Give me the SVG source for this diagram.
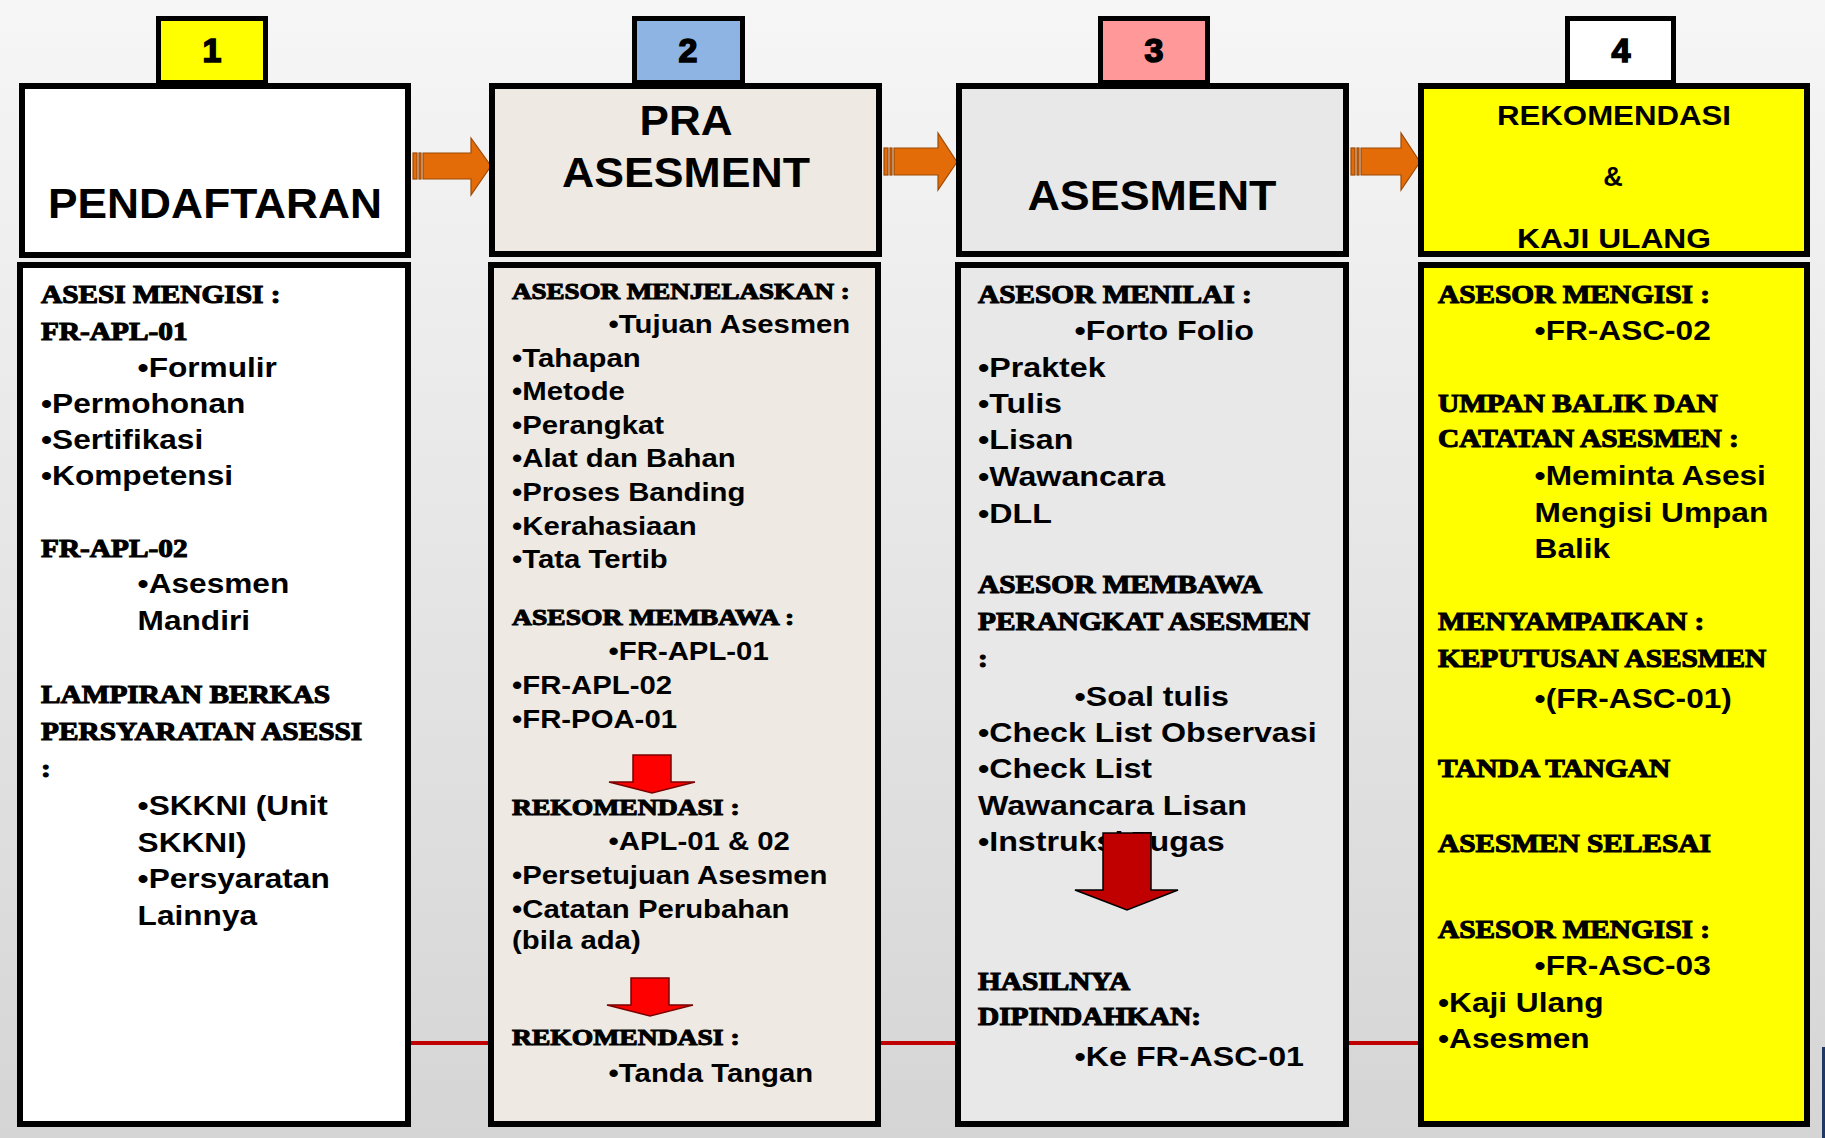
<svg xmlns="http://www.w3.org/2000/svg" width="1825" height="1138" viewBox="0 0 1825 1138">
<defs>
<linearGradient id="bg" x1="0" y1="0" x2="0" y2="1">
<stop offset="0" stop-color="#F6F6F6"/>
<stop offset="1" stop-color="#D5D5D5"/>
</linearGradient>
<style>
.box{stroke:#000;stroke-width:6}
.tab{stroke:#000;stroke-width:5}
.hd{font-family:"Liberation Sans",Arial,sans-serif;font-weight:bold;fill:#000;text-anchor:middle}
.num{stroke:#000;stroke-width:1.6}
.sr{font-family:"Liberation Serif","Times New Roman",serif;font-weight:bold;fill:#000;stroke:#000;stroke-width:1.1}
.ss{font-family:"Liberation Sans",Arial,sans-serif;font-weight:bold;fill:#000}
.oa{fill:#E36C09;stroke:#9C4A06;stroke-width:1.2}
</style>
</defs>
<rect x="0" y="0" width="1825" height="1138" fill="url(#bg)"/>
<rect x="1822" y="1047" width="3" height="91" fill="#1F3864"/>

<g id="connectors">
<line x1="408" y1="1043" x2="1420" y2="1043" stroke="#C00000" stroke-width="4"/>
<g id="arrow-1-2">
<rect class="oa" x="413" y="153" width="4" height="26"/>
<rect class="oa" x="419" y="153" width="2" height="26"/>
<polygon class="oa" points="423,153 471,153 471,138 491,166 471,195 471,179 423,179"/>
</g>
<g id="arrow-2-3">
<rect class="oa" x="884" y="148" width="4" height="27"/>
<rect class="oa" x="890" y="148" width="2" height="27"/>
<polygon class="oa" points="894,148 938,148 938,133 957,162 938,190 938,175 894,175"/>
</g>
<g id="arrow-3-4">
<rect class="oa" x="1351" y="148" width="4" height="27"/>
<rect class="oa" x="1357" y="148" width="2" height="27"/>
<polygon class="oa" points="1361,148 1401,148 1401,133 1420,162 1401,190 1401,175 1361,175"/>
</g>
</g>

<!-- Column 1 -->
<g id="tab1">
<rect class="tab" x="158.5" y="18.5" width="107" height="64" fill="#FFFF00"/>
<text class="hd num" x="212" y="62" font-size="34">1</text>
</g>
<g id="header1">
<rect class="box" x="22" y="86" width="386" height="169" fill="#FFFFFF"/>
<text class="hd" x="215" y="218" font-size="42" textLength="334" lengthAdjust="spacingAndGlyphs">PENDAFTARAN</text>
</g>
<g id="body1">
<rect class="box" x="20" y="265" width="388" height="859" fill="#FFFFFF"/>
<g transform="translate(41,0) scale(1.15,1)">
<text class="sr" x="0" y="303" font-size="25.5">ASESI MENGISI :</text>
<text class="sr" x="0" y="340" font-size="25.5">FR-APL-01</text>
<text class="ss" x="84" y="377" font-size="27.5">•Formulir</text>
<text class="ss" x="0" y="413" font-size="27.5">•Permohonan</text>
<text class="ss" x="0" y="449" font-size="27.5">•Sertifikasi</text>
<text class="ss" x="0" y="485" font-size="27.5">•Kompetensi</text>
<text class="sr" x="0" y="557" font-size="25.5">FR-APL-02</text>
<text class="ss" x="84" y="593" font-size="27.5">•Asesmen</text>
<text class="ss" x="84" y="630" font-size="27.5">Mandiri</text>
<text class="sr" x="0" y="703" font-size="25.5">LAMPIRAN BERKAS</text>
<text class="sr" x="0" y="740" font-size="25.5">PERSYARATAN ASESSI</text>
<text class="sr" x="0" y="777" font-size="25.5">:</text>
<text class="ss" x="84" y="815" font-size="27.5">•SKKNI (Unit</text>
<text class="ss" x="84" y="852" font-size="27.5">SKKNI)</text>
<text class="ss" x="84" y="888" font-size="27.5">•Persyaratan</text>
<text class="ss" x="84" y="925" font-size="27.5">Lainnya</text>
</g>
</g>

<!-- Column 2 -->
<g id="tab2">
<rect class="tab" x="634.5" y="18.5" width="108" height="64" fill="#8EB4E3"/>
<text class="hd num" x="688" y="62" font-size="34">2</text>
</g>
<g id="header2">
<rect class="box" x="492" y="86" width="387" height="168" fill="#EEEAE3"/>
<text class="hd" x="686" y="135" font-size="42" textLength="93" lengthAdjust="spacingAndGlyphs">PRA</text>
<text class="hd" x="686" y="187" font-size="42" textLength="248" lengthAdjust="spacingAndGlyphs">ASESMENT</text>
</g>
<g id="body2">
<rect class="box" x="491" y="265" width="387" height="859" fill="#EEEAE3"/>
<g transform="translate(512,0) scale(1.15,1)">
<text class="sr" x="0" y="299" font-size="23.5">ASESOR MENJELASKAN :</text>
<text class="ss" x="84" y="333" font-size="25.5">•Tujuan Asesmen</text>
<text class="ss" x="0" y="367" font-size="25.5">•Tahapan</text>
<text class="ss" x="0" y="400" font-size="25.5">•Metode</text>
<text class="ss" x="0" y="434" font-size="25.5">•Perangkat</text>
<text class="ss" x="0" y="467" font-size="25.5">•Alat dan Bahan</text>
<text class="ss" x="0" y="501" font-size="25.5">•Proses Banding</text>
<text class="ss" x="0" y="535" font-size="25.5">•Kerahasiaan</text>
<text class="ss" x="0" y="568" font-size="25.5">•Tata Tertib</text>
<text class="sr" x="0" y="625" font-size="24">ASESOR MEMBAWA :</text>
<text class="ss" x="84" y="660" font-size="25.5">•FR-APL-01</text>
<text class="ss" x="0" y="694" font-size="25.5">•FR-APL-02</text>
<text class="ss" x="0" y="728" font-size="25.5">•FR-POA-01</text>
<text class="sr" x="0" y="815" font-size="24">REKOMENDASI :</text>
<text class="ss" x="84" y="850" font-size="25.5">•APL-01 &amp; 02</text>
<text class="ss" x="0" y="884" font-size="25.5">•Persetujuan Asesmen</text>
<text class="ss" x="0" y="918" font-size="25.5">•Catatan Perubahan</text>
<text class="ss" x="0" y="949" font-size="25.5">(bila ada)</text>
<text class="sr" x="0" y="1045" font-size="24">REKOMENDASI :</text>
<text class="ss" x="84" y="1082" font-size="25.5">•Tanda Tangan</text>
</g>
<polygon points="633,755 671,755 671,782 695,782 652,793 609,782 633,782" fill="#FF0000" stroke="#7A0000" stroke-width="1.5"/>
<polygon points="631,978 669,978 669,1005 693,1005 650,1016 607,1005 631,1005" fill="#FF0000" stroke="#7A0000" stroke-width="1.5"/>
</g>

<!-- Column 3 -->
<g id="tab3">
<rect class="tab" x="1100.5" y="18.5" width="107" height="64" fill="#FF9999"/>
<text class="hd num" x="1154" y="62" font-size="34">3</text>
</g>
<g id="header3">
<rect class="box" x="959" y="86" width="387" height="168" fill="#E8E8E8"/>
<text class="hd" x="1152" y="210" font-size="42" textLength="249" lengthAdjust="spacingAndGlyphs">ASESMENT</text>
</g>
<g id="body3">
<rect class="box" x="958" y="265" width="388" height="859" fill="#E8E8E8"/>
<g transform="translate(978,0) scale(1.15,1)">
<text class="sr" x="0" y="303" font-size="25.5">ASESOR MENILAI :</text>
<text class="ss" x="84" y="340" font-size="28">•Forto Folio</text>
<text class="ss" x="0" y="377" font-size="28">•Praktek</text>
<text class="ss" x="0" y="413" font-size="28">•Tulis</text>
<text class="ss" x="0" y="449" font-size="28">•Lisan</text>
<text class="ss" x="0" y="486" font-size="28">•Wawancara</text>
<text class="ss" x="0" y="523" font-size="28">•DLL</text>
<text class="sr" x="0" y="593" font-size="25.5">ASESOR MEMBAWA</text>
<text class="sr" x="0" y="630" font-size="25.5">PERANGKAT ASESMEN</text>
<text class="sr" x="0" y="667" font-size="25.5">:</text>
<text class="ss" x="84" y="706" font-size="28">•Soal tulis</text>
<text class="ss" x="0" y="742" font-size="28">•Check List Observasi</text>
<text class="ss" x="0" y="778" font-size="28">•Check List</text>
<text class="ss" x="0" y="815" font-size="28">Wawancara Lisan</text>
<text class="ss" x="0" y="851" font-size="28">•Instruksi Tugas</text>
<text class="sr" x="0" y="990" font-size="25.5">HASILNYA</text>
<text class="sr" x="0" y="1025" font-size="25.5">DIPINDAHKAN:</text>
<text class="ss" x="84" y="1066" font-size="28">•Ke FR-ASC-01</text>
</g>
<polygon points="1103,833 1151,833 1151,890 1178,890 1127,910 1075,890 1103,890" fill="#C00000" stroke="#000" stroke-width="1.5"/>
</g>

<!-- Column 4 -->
<g id="tab4">
<rect class="tab" x="1567.5" y="18.5" width="106" height="64" fill="#FFFFFF"/>
<text class="hd num" x="1621" y="62" font-size="34">4</text>
</g>
<g id="header4">
<rect class="box" x="1421" y="86" width="386" height="168" fill="#FFFF00"/>
<text class="hd" x="1614" y="125" font-size="27" textLength="234" lengthAdjust="spacingAndGlyphs">REKOMENDASI</text>
<text class="hd" x="1613" y="186" font-size="27">&amp;</text>
<text class="hd" x="1614" y="248" font-size="27" textLength="194" lengthAdjust="spacingAndGlyphs">KAJI ULANG</text>
</g>
<g id="body4">
<rect class="box" x="1421" y="265" width="386" height="859" fill="#FFFF00"/>
<g transform="translate(1438,0) scale(1.15,1)">
<text class="sr" x="0" y="303" font-size="25.5">ASESOR MENGISI :</text>
<text class="ss" x="84" y="340" font-size="27.5">•FR-ASC-02</text>
<text class="sr" x="0" y="412" font-size="25.5">UMPAN BALIK DAN</text>
<text class="sr" x="0" y="447" font-size="25.5">CATATAN ASESMEN :</text>
<text class="ss" x="84" y="485" font-size="27.5">•Meminta Asesi</text>
<text class="ss" x="84" y="522" font-size="27.5">Mengisi Umpan</text>
<text class="ss" x="84" y="558" font-size="27.5">Balik</text>
<text class="sr" x="0" y="630" font-size="25.5">MENYAMPAIKAN :</text>
<text class="sr" x="0" y="667" font-size="25.5">KEPUTUSAN ASESMEN</text>
<text class="ss" x="84" y="708" font-size="27.5">•(FR-ASC-01)</text>
<text class="sr" x="0" y="777" font-size="25.5">TANDA TANGAN</text>
<text class="sr" x="0" y="852" font-size="25.5">ASESMEN SELESAI</text>
<text class="sr" x="0" y="938" font-size="25.5">ASESOR MENGISI :</text>
<text class="ss" x="84" y="975" font-size="27.5">•FR-ASC-03</text>
<text class="ss" x="0" y="1012" font-size="27.5">•Kaji Ulang</text>
<text class="ss" x="0" y="1048" font-size="27.5">•Asesmen</text>
</g>
</g>
</svg>
